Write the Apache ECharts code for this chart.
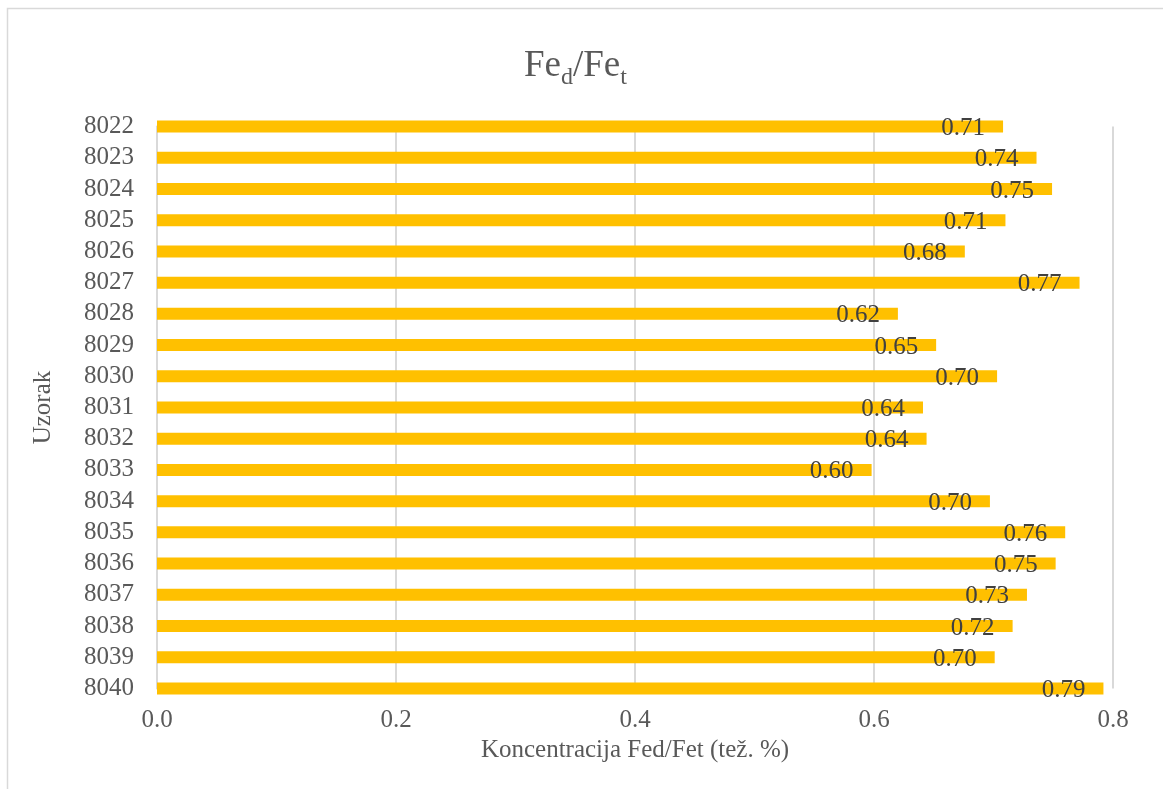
<!DOCTYPE html>
<html>
<head>
<meta charset="utf-8">
<script src="https://cdn.jsdelivr.net/npm/echarts@6/dist/echarts.min.js"></script>
<style>html,body{margin:0;padding:0;background:#fff;}#c{width:1163px;height:789px;}</style>
</head>
<body>
<div id="c"></div>
<script>
const categories = ['8022','8023','8024','8025','8026','8027','8028','8029','8030','8031','8032','8033','8034','8035','8036','8037','8038','8039','8040'];
const values = [0.708,0.736,0.749,0.710,0.676,0.772,0.620,0.652,0.703,0.641,0.644,0.598,0.697,0.760,0.752,0.728,0.716,0.701,0.792];
const xTicks = [0, 0.2, 0.4, 0.6, 0.8];
const xName = 'Koncentracija Fed/Fet (tež. %)';
const yName = 'Uzorak';

const FONT = '"Liberation Serif", "Times New Roman", serif';
const chart = echarts.init(document.getElementById('c'));
chart.setOption({
  animation: false,
  backgroundColor: '#fff',
  graphic: [{
    type: 'rect', silent: true, z: -10,
    shape: { x: 7.5, y: 8.5, width: 1300, height: 1000 },
    style: { fill: null, stroke: '#d9d9d9', lineWidth: 1.5 }
  }],
  title: {
    text: '{a|Fe}{s|d}{a|/Fe}{s|t}',
    left: 519, top: 43,
    textStyle: {
      rich: {
        a: { fontFamily: FONT, fontSize: 37, fontWeight: 'normal', color: '#595959', lineHeight: 42, verticalAlign: 'top' },
        s: { fontFamily: FONT, fontSize: 24, fontWeight: 'normal', color: '#595959', lineHeight: 42, verticalAlign: 'bottom' }
      }
    }
  },
  grid: { left: 157, right: 50, top: 126.6, bottom: 100.6, containLabel: false },
  xAxis: {
    type: 'value', min: xTicks[0], max: xTicks[xTicks.length - 1], interval: 0.2,
    name: xName, nameLocation: 'middle', nameGap: 45,
    nameTextStyle: { fontFamily: FONT, fontSize: 25, color: '#595959' },
    axisLine: { show: false }, axisTick: { show: false },
    axisLabel: { fontFamily: FONT, fontSize: 25, color: '#595959', margin: 20,
      formatter: v => v.toFixed(1) },
    splitLine: { show: true, lineStyle: { color: '#d9d9d9', width: 2 } }
  },
  yAxis: {
    type: 'category', data: categories, inverse: true, boundaryGap: false,
    name: yName, nameLocation: 'middle', nameGap: 101, nameRotate: 90,
    nameTextStyle: { fontFamily: FONT, fontSize: 25, color: '#595959' },
    axisLine: { show: true, lineStyle: { color: '#d9d9d9', width: 2 } },
    axisTick: { show: false },
    axisLabel: { fontFamily: FONT, fontSize: 25, color: '#595959', margin: 23, interval: 0, padding: [4, 0, 0, 0] },
    splitLine: { show: false }
  },
  series: [{
    type: 'bar', data: values, barWidth: 12, clip: true,
    itemStyle: { color: '#FFC000' },
    label: {
      show: true, position: 'insideRight', distance: 18, offset: [0, 2],
      fontFamily: FONT, fontSize: 25, color: '#404040',
      formatter: p => p.value.toFixed(2)
    }
  }]
});
</script>
</body>
</html>
